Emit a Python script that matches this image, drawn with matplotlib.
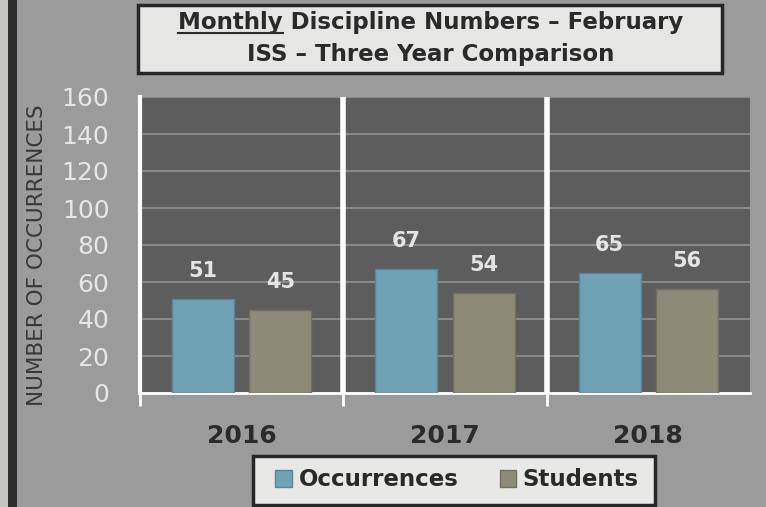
import matplotlib.pyplot as plt
import numpy as np
from matplotlib.patches import Rectangle, Patch
from matplotlib.lines import Line2D

years = ['2016', '2017', '2018']
occurrences = [51, 67, 65]
students = [45, 54, 56]
y_ticks = [0, 20, 40, 60, 80, 100, 120, 140, 160]

fig = plt.figure(figsize=(7.66, 5.07), dpi=100)
fig.patch.set_facecolor('#9b9b9b')

# left edge strips
fig.add_artist(Rectangle((0, 0), 8 / 766, 1, transform=fig.transFigure,
                         facecolor='#c4c4c2', edgecolor='none'))
fig.add_artist(Rectangle((8 / 766, 0), 9 / 766, 1, transform=fig.transFigure,
                         facecolor='#2e2e2c', edgecolor='none'))

ax = fig.add_axes([140 / 766, 114 / 507, 610 / 766, 296 / 507])
ax.set_facecolor('#5d5d5d')

x = np.arange(len(years))
w = 0.305
off = 0.19
b1 = ax.bar(x - off, occurrences, w, color='#6fa2b4', edgecolor='#5a8595', linewidth=1, zorder=3)
b2 = ax.bar(x + off, students, w, color='#8d8a77', edgecolor='#726f60', linewidth=1, zorder=3)

for bars, vals in ((b1, occurrences), (b2, students)):
    for b, v in zip(bars, vals):
        ax.annotate(str(v), (b.get_x() + b.get_width() / 2, v), xytext=(0, 13),
                    textcoords='offset points', ha='center', va='bottom',
                    fontsize=15, fontweight='bold', color='#e4e4e4', zorder=4)

ax.set_xlim(-0.5, 2.5)
ax.set_ylim(0, 160)
ax.set_yticks(y_ticks)
ax.yaxis.grid(True, color='#8e8e8e', linewidth=1.3, zorder=1)
ax.set_axisbelow(True)
ax.tick_params(axis='y', length=0, pad=22, labelsize=18, labelcolor='#e6e6e6')

ax.set_xticks(x)
ax.set_xticklabels(years, fontsize=18, fontweight='bold', color='#2b2b2b')
ax.tick_params(axis='x', which='major', length=0, pad=22)
ax.set_xticks([-0.5, 0.5, 1.5], minor=True)
ax.tick_params(axis='x', which='minor', length=9, width=2, color='white')

for sep in [0.5, 1.5]:
    ax.axvline(sep, color='white', linewidth=4, zorder=2)

for s in ['top', 'right']:
    ax.spines[s].set_visible(False)
ax.spines['left'].set_color('white')
ax.spines['left'].set_linewidth(3)
ax.spines['bottom'].set_color('white')
ax.spines['bottom'].set_linewidth(2)

fig.text(37 / 766, 0.497, 'NUMBER OF OCCURRENCES', rotation=90, ha='center', va='center',
         fontsize=15.5, color='#383838')

# title box
fig.add_artist(Rectangle((138 / 766, 1 - 73 / 507), 584 / 766, 68 / 507, transform=fig.transFigure,
                         facecolor='#e6e6e4', edgecolor='#262626', linewidth=2.5))
t1 = fig.text(431 / 766, 1 - 22 / 507, 'Monthly Discipline Numbers \u2013 February', ha='center',
              va='center', fontsize=16.5, fontweight='bold', color='#2a2a2a')
fig.text(431 / 766, 1 - 54 / 507, 'ISS \u2013 Three Year Comparison', ha='center',
         va='center', fontsize=16.5, fontweight='bold', color='#2a2a2a')

# underline "Monthly"
fig.canvas.draw()
r = fig.canvas.get_renderer()
bb = t1.get_window_extent(r)
tmp = fig.text(0, 0, 'Monthly', fontsize=16.5, fontweight='bold')
mw = tmp.get_window_extent(r).width
tmp.remove()
W, H = fig.bbox.width, fig.bbox.height
uy = (bb.y0 + 1) / H
fig.add_artist(Line2D([bb.x0 / W, (bb.x0 + mw) / W], [uy, uy], transform=fig.transFigure,
                      color='#2a2a2a', linewidth=1.5))

# legend box
fig.add_artist(Rectangle((253 / 766, 1 - 505 / 507), 402 / 766, 49 / 507, transform=fig.transFigure,
                         facecolor='#e8e8e6', edgecolor='#262626', linewidth=2.5))
handles = [Patch(facecolor='#6fa2b4', edgecolor='#5a8595'),
           Patch(facecolor='#8d8a77', edgecolor='#726f60')]
fig.legend(handles, ['Occurrences', 'Students'], loc='center',
           bbox_to_anchor=(457 / 766, 1 - 480 / 507), ncol=2, frameon=False,
           prop={'size': 16.5, 'weight': 'bold'}, handlelength=0.7, handleheight=0.7,
           handletextpad=0.3, columnspacing=1.8, labelcolor='#2a2a2a')

fig.savefig('out.png', dpi=100, facecolor=fig.get_facecolor())
